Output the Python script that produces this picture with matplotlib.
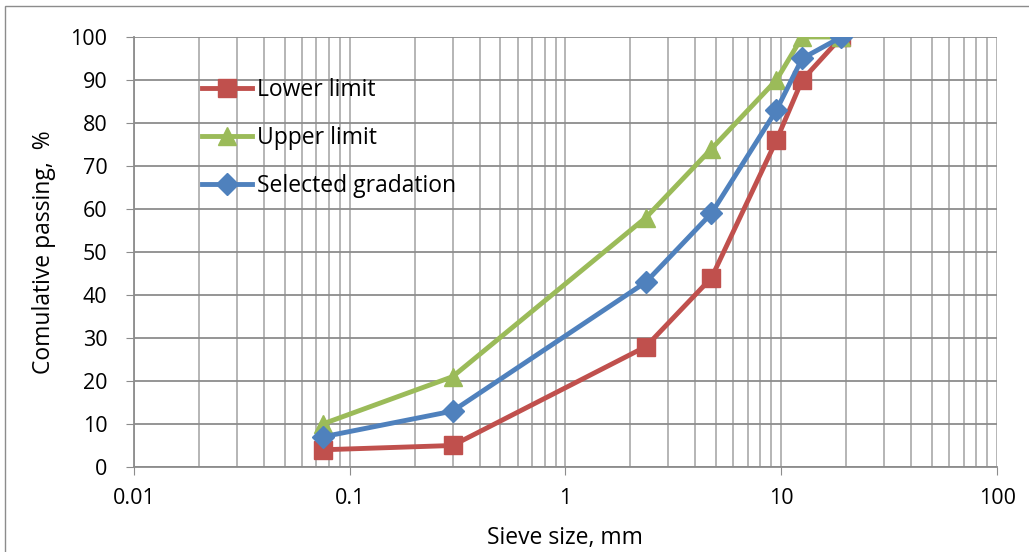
import matplotlib
matplotlib.use('Agg')
import matplotlib.pyplot as plt
from matplotlib.patches import Rectangle
from matplotlib.ticker import LogLocator, FixedLocator, NullFormatter

plt.rcParams['font.family'] = ['Open Sans', 'DejaVu Sans']

# sieve sizes (mm) and passing (%)
sieve = [0.075, 0.3, 2.36, 4.75, 9.5, 12.5, 19]
lower = [4, 5, 28, 44, 76, 90, 100]
upper = [10, 21, 58, 74, 90, 100, 100]
selected = [7, 13, 43, 59, 83, 95, 100]
xticklabels = ['0.01', '0.1', '1', '10', '100']

fig = plt.figure(figsize=(10.29, 5.52), dpi=100)
ax = fig.add_axes([0.130, 0.154, 0.839, 0.779])

# outer frame
fig.patches.append(Rectangle((0.005, -0.01), 1.2, 1.0, transform=fig.transFigure,
                             fill=False, edgecolor='#8c8c8c', linewidth=1.0))

ax.plot(sieve, lower, color='#C0504D', lw=3.5, marker='s', ms=13, label='Lower limit')
ax.plot(sieve, upper, color='#9BBB59', lw=3.5, marker='^', ms=13, label='Upper limit')
ax.plot(sieve, selected, color='#4F81BD', lw=3.5, marker='D', ms=11, label='Selected gradation')

ax.set_xscale('log')
ax.set_xlim(0.01, 100)
ax.set_ylim(0, 100)
ax.set_yticks(range(0, 101, 10))
ax.xaxis.set_major_locator(FixedLocator([0.01, 0.1, 1, 10, 100]))
ax.set_xticklabels(xticklabels)
ax.xaxis.set_minor_locator(LogLocator(base=10, subs=range(2, 10)))
ax.xaxis.set_minor_formatter(NullFormatter())

ax.grid(True, which='both', axis='x', color='#b0b0b0', lw=1.3)
ax.grid(True, which='major', axis='y', color='#8c8c8c', lw=1.3)
ax.set_axisbelow(True)

for s in ['top', 'right']:
    ax.spines[s].set_visible(False)
ax.spines['left'].set_color('#8c8c8c')
ax.spines['bottom'].set_color('#8c8c8c')
ax.spines['left'].set_linewidth(1.3)
ax.spines['bottom'].set_linewidth(1.3)
ax.tick_params(axis='both', which='major', length=6, color='#8c8c8c', labelsize=15.5)
ax.tick_params(axis='y', pad=13)
ax.tick_params(axis='x', pad=9)
ax.tick_params(axis='x', which='minor', length=0)

ax.set_xlabel('Sieve size, mm', fontsize=16.5)
ax.set_ylabel('Comulative passing,  %', fontsize=16.5)
ax.xaxis.set_label_coords(0.5, -0.165)
ax.xaxis.label.set_va('center')
ax.yaxis.set_label_coords(-0.104, 0.5)
ax.yaxis.label.set_va('center')

ax.legend(loc='upper left', bbox_to_anchor=(0.068, 0.927), frameon=False, fontsize=16.5,
          handlelength=2.2, handletextpad=0.2, labelspacing=1.05, borderaxespad=0)

fig.savefig('out.png', dpi=100)
